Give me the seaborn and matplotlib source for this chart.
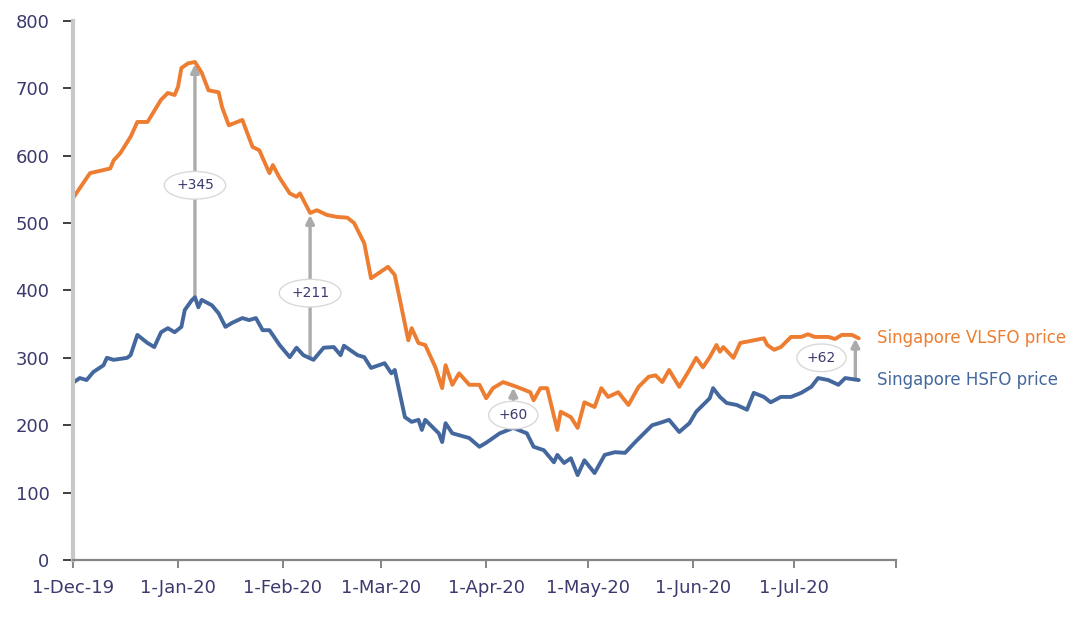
import numpy as np
import pandas as pd
import matplotlib
matplotlib.use("Agg")
import matplotlib.pyplot as plt
import matplotlib.dates as mdates
import seaborn as sns

# ---------------- data ----------------
vlsfo_dates = [
    "2019-12-01", "2019-12-06", "2019-12-12", "2019-12-13", "2019-12-15", "2019-12-18",
    "2019-12-20", "2019-12-23", "2019-12-27", "2019-12-29", "2019-12-31", "2020-01-01",
    "2020-01-02", "2020-01-04", "2020-01-06", "2020-01-08", "2020-01-10", "2020-01-13",
    "2020-01-14", "2020-01-16", "2020-01-20", "2020-01-23", "2020-01-25", "2020-01-28",
    "2020-01-29", "2020-01-31", "2020-02-03", "2020-02-05", "2020-02-06", "2020-02-09",
    "2020-02-11", "2020-02-14", "2020-02-17", "2020-02-20", "2020-02-22", "2020-02-25",
    "2020-02-27", "2020-03-03", "2020-03-05", "2020-03-09", "2020-03-10", "2020-03-12",
    "2020-03-14", "2020-03-17", "2020-03-19", "2020-03-20", "2020-03-22", "2020-03-24",
    "2020-03-27", "2020-03-30", "2020-04-01", "2020-04-03", "2020-04-06", "2020-04-10",
    "2020-04-14", "2020-04-15", "2020-04-17", "2020-04-19", "2020-04-22", "2020-04-23",
    "2020-04-26", "2020-04-28", "2020-04-30", "2020-05-03", "2020-05-05", "2020-05-07",
    "2020-05-10", "2020-05-13", "2020-05-16", "2020-05-19", "2020-05-21", "2020-05-23",
    "2020-05-25", "2020-05-28", "2020-05-31", "2020-06-02", "2020-06-04", "2020-06-06",
    "2020-06-08", "2020-06-09", "2020-06-10", "2020-06-13", "2020-06-15", "2020-06-19",
    "2020-06-22", "2020-06-23", "2020-06-25", "2020-06-27", "2020-06-30", "2020-07-03",
    "2020-07-05", "2020-07-07", "2020-07-11", "2020-07-13", "2020-07-15", "2020-07-18",
    "2020-07-20",
]
vlsfo_values = [
    537, 574, 581, 593, 604, 628,
    650, 650, 683, 693, 690, 702,
    730, 737, 739, 723, 697, 694,
    672, 645, 653, 613, 608, 574,
    586, 567, 544, 539, 544, 515,
    519, 512, 509, 508, 500, 470,
    418, 435, 423, 326, 344, 322,
    319, 286, 255, 289, 260, 277,
    260, 260, 240, 255, 264, 257,
    249, 237, 255, 255, 193, 220,
    212, 196, 234, 227, 255, 242,
    249, 230, 257, 272, 274, 264,
    282, 257, 282, 300, 286, 301,
    319, 309, 316, 300, 322, 326,
    329, 319, 312, 316, 331, 331,
    335, 331, 331, 328, 334, 334,
    329,
]

hsfo_dates = [
    "2019-12-01", "2019-12-03", "2019-12-05", "2019-12-07", "2019-12-10", "2019-12-11",
    "2019-12-13", "2019-12-17", "2019-12-18", "2019-12-20", "2019-12-23", "2019-12-25",
    "2019-12-27", "2019-12-29", "2019-12-31", "2020-01-02", "2020-01-03", "2020-01-05",
    "2020-01-06", "2020-01-07", "2020-01-08", "2020-01-11", "2020-01-13", "2020-01-15",
    "2020-01-17", "2020-01-20", "2020-01-22", "2020-01-24", "2020-01-26", "2020-01-28",
    "2020-01-31", "2020-02-03", "2020-02-05", "2020-02-07", "2020-02-10", "2020-02-13",
    "2020-02-16", "2020-02-18", "2020-02-19", "2020-02-23", "2020-02-25", "2020-02-27",
    "2020-03-02", "2020-03-04", "2020-03-05", "2020-03-08", "2020-03-10", "2020-03-12",
    "2020-03-13", "2020-03-14", "2020-03-18", "2020-03-19", "2020-03-20", "2020-03-22",
    "2020-03-27", "2020-03-30", "2020-04-01", "2020-04-05", "2020-04-09", "2020-04-13",
    "2020-04-15", "2020-04-18", "2020-04-21", "2020-04-22", "2020-04-24", "2020-04-26",
    "2020-04-28", "2020-04-30", "2020-05-03", "2020-05-06", "2020-05-09", "2020-05-12",
    "2020-05-15", "2020-05-17", "2020-05-20", "2020-05-22", "2020-05-25", "2020-05-28",
    "2020-05-31", "2020-06-02", "2020-06-06", "2020-06-07", "2020-06-09", "2020-06-11",
    "2020-06-14", "2020-06-17", "2020-06-19", "2020-06-22", "2020-06-24", "2020-06-27",
    "2020-06-30", "2020-07-03", "2020-07-06", "2020-07-08", "2020-07-11", "2020-07-14",
    "2020-07-16", "2020-07-20",
]
hsfo_values = [
    263, 270, 267, 279, 289, 300,
    297, 300, 304, 334, 322, 316,
    338, 344, 338, 346, 371, 385,
    390, 375, 386, 378, 366, 346,
    352, 359, 356, 359, 341, 341,
    319, 301, 315, 304, 297, 315,
    316, 304, 318, 304, 301, 285,
    292, 277, 282, 212, 205, 208,
    193, 208, 188, 175, 203, 188,
    181, 168, 174, 188, 196, 188,
    168, 163, 145, 156, 144, 151,
    126, 148, 129, 156, 160, 159,
    175, 185, 200, 203, 208, 190,
    203, 220, 240, 255, 242, 233,
    230, 223, 248, 242, 234, 242,
    242, 248, 257, 270, 267, 260,
    270, 267,
]

series_names = ["Singapore VLSFO price", "Singapore HSFO price"]
series_colors = ["#ED7D31", "#44689E"]

tick_dates = ["2019-12-01", "2020-01-01", "2020-02-01", "2020-03-01", "2020-04-01",
              "2020-05-01", "2020-06-01", "2020-07-01", "2020-07-31"]
tick_labels = ["1-Dec-19", "1-Jan-20", "1-Feb-20", "1-Mar-20", "1-Apr-20",
               "1-May-20", "1-Jun-20", "1-Jul-20", ""]

spread_dates = ["2020-01-06", "2020-02-09", "2020-04-09", "2020-07-19"]
spread_labels = ["+345", "+211", "+60", "+62"]
# label placement (date, value) for the oval tags
tag_dates = ["2020-01-06", "2020-02-09", "2020-04-09", "2020-07-09"]
tag_values = [556, 396, 215, 300]

# ---------------- build ----------------
df = pd.concat([
    pd.DataFrame({"date": pd.to_datetime(vlsfo_dates), "price": vlsfo_values, "series": series_names[0]}),
    pd.DataFrame({"date": pd.to_datetime(hsfo_dates), "price": hsfo_values, "series": series_names[1]}),
], ignore_index=True)

sns.set_style("white")
plt.rcParams["font.family"] = ["DejaVu Sans"]

fig = plt.figure(figsize=(10.85, 6.19), dpi=100)
ax = fig.add_axes([0.0673, 0.0953, 0.7585, 0.871])

text_color = "#3B3A6E"
arrow_color = "#ABABAB"

# spread arrows (drawn under lines)
vx = mdates.date2num(pd.to_datetime(vlsfo_dates))
hx = mdates.date2num(pd.to_datetime(hsfo_dates))
for d in spread_dates:
    dn = mdates.date2num(pd.Timestamp(d))
    top = np.interp(dn, vx, vlsfo_values)
    bot = np.interp(dn, hx, hsfo_values)
    ax.annotate("", xy=(pd.Timestamp(d), top - 3), xytext=(pd.Timestamp(d), bot),
                arrowprops=dict(arrowstyle="-|>", color=arrow_color, lw=2.4,
                                mutation_scale=12, shrinkA=0, shrinkB=0),
                zorder=1)

sns.lineplot(data=df, x="date", y="price", hue="series", palette=series_colors,
             hue_order=series_names, linewidth=2.8, legend=False, ax=ax, zorder=2)

for lab, td, tv in zip(spread_labels, tag_dates, tag_values):
    ax.text(pd.Timestamp(td), tv, lab, ha="center", va="center", fontsize=10,
            color=text_color, zorder=4,
            bbox=dict(boxstyle="ellipse,pad=0.2", fc="white", ec="#D9D9D9", lw=1.0))

# end-of-line series labels
last_v = (pd.Timestamp(vlsfo_dates[-1]), vlsfo_values[-1])
last_h = (pd.Timestamp(hsfo_dates[-1]), hsfo_values[-1])
ax.annotate(series_names[0], xy=last_v, xytext=(13, 0), textcoords="offset points",
            ha="left", va="center", fontsize=12, color=series_colors[0], annotation_clip=False)
ax.annotate(series_names[1], xy=last_h, xytext=(13, 0), textcoords="offset points",
            ha="left", va="center", fontsize=12, color=series_colors[1], annotation_clip=False)

# axes styling
ax.set_xlim(pd.Timestamp("2019-12-01"), pd.Timestamp("2020-07-31"))
ax.set_ylim(0, 800)
ax.set_yticks(np.arange(0, 801, 100))
ax.set_xticks(pd.to_datetime(tick_dates))
ax.set_xticklabels(tick_labels)
ax.set_xlabel("")
ax.set_ylabel("")

for s in ["top", "right"]:
    ax.spines[s].set_visible(False)
ax.spines["left"].set_color("#C8C8C8")
ax.spines["left"].set_linewidth(3)
ax.spines["bottom"].set_color("#868686")
ax.spines["bottom"].set_linewidth(1.6)

ax.tick_params(axis="y", which="both", direction="out", length=7, width=1.4,
               color="#404040", labelsize=13, labelcolor=text_color, pad=10, left=True)
ax.tick_params(axis="x", which="both", direction="out", length=6, width=1.4,
               color="#868686", labelsize=13, labelcolor=text_color, pad=8, bottom=True)
ax.grid(False)

fig.savefig("out.png", dpi=100, facecolor="white")
